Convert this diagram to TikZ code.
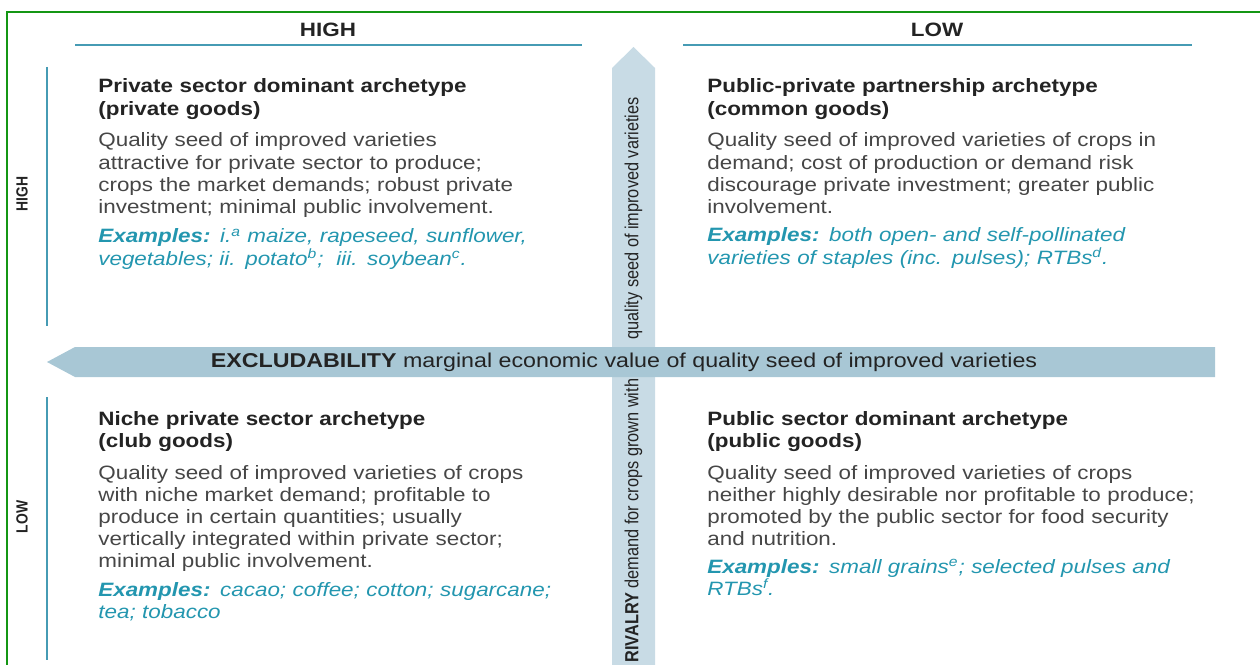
\documentclass[tikz,border=0pt]{standalone}
\usepackage{fontspec}
\setmainfont{Liberation Sans}[FakeStretch=1.16]
\newfontfamily\narrowfont{Liberation Sans}[FakeStretch=0.86]

\definecolor{frame}{RGB}{20,150,20}
\definecolor{rulecol}{RGB}{70,155,180}
\definecolor{bandV}{RGB}{200,219,229}
\definecolor{bandH}{RGB}{168,199,213}
\definecolor{ink}{RGB}{35,35,35}
\definecolor{bodyink}{RGB}{70,70,70}
\definecolor{exampleink}{RGB}{35,150,175}

\begin{document}
\begin{tikzpicture}[x=0.02cm, y=-0.02cm]
\tikzset{
  archtitle/.style={anchor=base west, inner sep=0pt, align=left, text width=11cm,
    font=\bfseries\fontsize{11}{12.66}\selectfont, text=ink},
  archbody/.style={anchor=base west, inner sep=0pt, align=left, text width=11cm,
    font=\fontsize{11}{12.66}\selectfont, text=bodyink},
  archexamples/.style={anchor=base west, inner sep=0pt, align=left, text width=11cm,
    font=\itshape\fontsize{11}{12.66}\selectfont, text=exampleink},
  axislabel/.style={inner sep=0pt, font=\bfseries\fontsize{11}{13}\selectfont, text=ink},
  sidelabel/.style={inner sep=0pt, rotate=90, font=\narrowfont\bfseries\fontsize{9.2}{11}\selectfont, text=ink},
  vlabel/.style={inner sep=0pt, rotate=90, font=\narrowfont\fontsize{10.8}{12}\selectfont, text=ink},
  hlabel/.style={inner sep=0pt, font=\fontsize{11.4}{13}\selectfont, text=ink},
  tealrule/.style={rulecol, line width=1.6pt},
}
\useasboundingbox (0,0) rectangle (1260,665);

% frame (only top and left edges show)
\draw [frame, line width=1.2pt] (7,665) -- (7,12) -- (1260,12);

% the two axes
\fill [bandV] (612,665) -- (612,68) -- (633.5,47) -- (655,68) -- (655,665) -- cycle;
\fill [bandH] (47,362) -- (75,347) -- (1215,347) -- (1215,377) -- (75,377) -- cycle;

\node [vlabel, anchor=west] (rivLow) at (633.5,663) {\textbf{RIVALRY} demand for crops grown with};
\node [vlabel, anchor=east] (rivHigh) at (633.5,97) {quality seed of improved varieties};
\node [hlabel] (excl) at (624,362) {\textbf{EXCLUDABILITY} marginal economic value of quality seed of improved varieties};

% column and row headings
\node [axislabel] (colHigh) at (328,30) {HIGH};
\node [axislabel] (colLow)  at (937,30) {LOW};
\draw [tealrule, line width=1.2pt] (75,45)  -- (582,45);
\draw [tealrule, line width=1.2pt] (683,45) -- (1192,45);

\node [sidelabel] (rowHigh) at (22,194) {HIGH};
\node [sidelabel] (rowLow)  at (22,517) {LOW};
\draw [tealrule] (47,67)  -- (47,326);
\draw [tealrule] (47,397) -- (47,660);

% top left
\node [archtitle] (privTitle) at (98,93) {Private sector dominant archetype\\(private goods)};
\node [archbody] (privBody) at (98,147) {Quality seed of improved varieties\\
  attractive for private sector to produce;\\
  crops the market demands; robust private\\
  investment; minimal public involvement.};
\node [archexamples] (privEx) at (98,243) {\textbf{Examples:} i.\textsuperscript{a} maize, rapeseed, sunflower,\\
  vegetables; ii. potato\textsuperscript{b};\ \ iii. soybean\textsuperscript{c}.};

% top right
\node [archtitle] (pppTitle) at (707,93) {Public-private partnership archetype\\(common goods)};
\node [archbody] (pppBody) at (707,147) {Quality seed of improved varieties of crops in\\
  demand; cost of production or demand risk\\
  discourage private investment; greater public\\
  involvement.};
\node [archexamples] (pppEx) at (707,242) {\textbf{Examples:} both open- and self-pollinated\\
  varieties of staples (inc. pulses); RTBs\textsuperscript{d}.};

% bottom left
\node [archtitle] (nicheTitle) at (98,425) {Niche private sector archetype\\(club goods)};
\node [archbody] (nicheBody) at (98,479) {Quality seed of improved varieties of crops\\
  with niche market demand; profitable to\\
  produce in certain quantities; usually\\
  vertically integrated within private sector;\\
  minimal public involvement.};
\node [archexamples] (nicheEx) at (98,596) {\textbf{Examples:} cacao; coffee; cotton; sugarcane;\\
  tea; tobacco};

% bottom right
\node [archtitle] (pubTitle) at (707,425) {Public sector dominant archetype\\(public goods)};
\node [archbody] (pubBody) at (707,479) {Quality seed of improved varieties of crops\\
  neither highly desirable nor profitable to produce;\\
  promoted by the public sector for food security\\
  and nutrition.};
\node [archexamples] (pubEx) at (707,573) {\textbf{Examples:} small grains\textsuperscript{e}; selected pulses and\\
  RTBs\textsuperscript{f}.};

\end{tikzpicture}
\end{document}
